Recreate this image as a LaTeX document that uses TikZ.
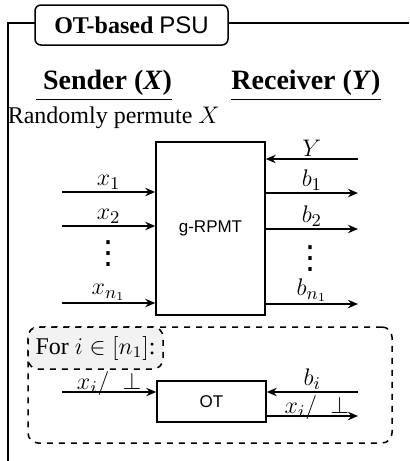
\documentclass[tikz,border=0pt]{standalone}
\usepackage{amssymb}
\usepackage{amsmath}
\usepackage{fontspec}
\setmainfont{Liberation Serif}
\setsansfont{Liberation Sans}
\newfontfamily\symfont{DejaVu Sans}
\usepackage{tikz}
\usetikzlibrary{arrows.meta}

\begin{document}
\begin{tikzpicture}[x=0.5pt,y=-0.5pt,line width=0.75pt,>={Stealth[length=5pt,width=4.2pt]},
  font=\fontsize{12}{14}\selectfont,
  blk/.style={draw,font=\sffamily\fontsize{8.5}{10}\selectfont},
  head/.style={font=\fontsize{14}{16}\selectfont},
  lab/.style={above,inner sep=1pt,font=\fontsize{13}{15}\selectfont},
  labb/.style={anchor=base,yshift=1.2pt,inner sep=0pt,font=\fontsize{13}{15}\selectfont},
  vdot/.style={inner sep=0pt,font=\symfont\fontsize{16}{16}\selectfont}]
\useasboundingbox (0,0) rectangle (409,461);
\coordinate (F0) at (8,461);
\coordinate (F1) at (8,23);
\coordinate (F2) at (409,23);
\draw (F0) -- (F1) -- (F2);
\node[draw,rounded corners=3pt,fill=white,minimum width=96.5pt,minimum height=20pt] (T) at (131.5,25) {\textbf{OT-based} \textsf{PSU}};
\node[head] (S) at (104,86) {\underline{\textbf{~Sender (\textit{X})}}};
\node[head] (R) at (306,86) {\underline{\textbf{Receiver (\textit{Y})}}};
\node[anchor=west,inner sep=0pt] (P) at (7,118) {Randomly permute $X$};
% g-RPMT
\node[blk,minimum width=54.5pt,minimum height=86.5pt] (M) at (210.5,228.5) {g-RPMT};
\coordinate (x1) at (62,192);
\coordinate (x2) at (62,226);
\coordinate (xn) at (62,303);
\coordinate (y0) at (358,159);
\coordinate (b1) at (358,193);
\coordinate (b2) at (358,229);
\coordinate (bn) at (358,304);
\path[->]
(x1) edge node[lab] {$x_1$} (x1 -| M.west)
(x2) edge node[lab] {$x_2$} (x2 -| M.west)
(xn) edge node[lab] {$x_{n_1}$} (xn -| M.west)
(y0) edge node[lab] {$Y$} (y0 -| M.east)
(b1 -| M.east) edge node[lab] {$b_1$} (b1)
(b2 -| M.east) edge node[lab] {$b_2$} (b2)
(bn -| M.east) edge node[lab] {$b_{n_1}$} (bn);
\node[vdot] (dx) at (108,254) {⋮};
\node[vdot] (db) at (310,259) {⋮};
% OT loop
\node[draw,dashed,rounded corners=5pt,minimum width=182pt,minimum height=58pt] (G) at (210,385) {};
\node[draw,dashed,rounded corners=5pt,fill=gray!10,anchor=north west,minimum width=67.5pt,minimum height=21pt] (L) at (G.north west) {For $i\in[n_1]$:};
\node[blk,minimum width=54.5pt,minimum height=20.5pt] (O) at (211.5,401.5) {OT};
\coordinate (xi) at (62,392);
\coordinate (bi) at (358,392);
\coordinate (xo) at (358,416);
\path[->]
(xi) edge node[labb] {$x_i/\;\perp$} (xi -| O.west)
(bi) edge node[lab] {$b_i$} (bi -| O.east)
(xo -| O.east) edge node[labb,pos=.55] {$x_i/\;\perp$} (xo);
\end{tikzpicture}
\end{document}
